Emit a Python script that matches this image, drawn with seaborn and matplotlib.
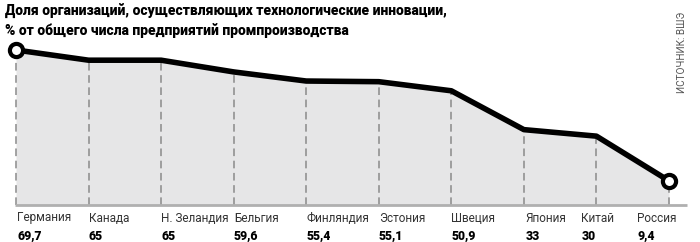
import matplotlib
matplotlib.use("Agg")
import matplotlib.pyplot as plt
import seaborn as sns
import pandas as pd
import numpy as np

countries = ["Германия", "Канада", "Н. Зеландия", "Бельгия", "Финляндия",
             "Эстония", "Швеция", "Япония", "Китай", "Россия"]
values = [69.7, 65, 65, 59.6, 55.4, 55.1, 50.9, 33, 30, 9.4]
value_labels = ["69,7", "65", "65", "59,6", "55,4", "55,1", "50,9", "33", "30", "9,4"]
title_lines = ["Доля организаций, осуществляющих технологические инновации,",
               "% от общего числа предприятий промпроизводства"]
source = "ИСТОЧНИК: ВШЭ"

sns.set_theme(style="white")
plt.rcParams['font.family'] = ['Roboto', 'DejaVu Sans']

df = pd.DataFrame({"x": np.arange(len(countries)), "v": values})

fig = plt.figure(figsize=(7, 2.42), dpi=100)
ax = fig.add_axes([0, 0, 1, 1])
px = (669 - 16) / 9.0
ax.set_xlim(-16 / px, 9 + (700 - 669) / px)
sc = 2.17
ax.set_ylim(69.7 - (242 - 50) / sc, 69.7 + 50 / sc)
base = 69.7 - (205 - 50) / sc

ax.fill_between(df["x"], df["v"], base, color="#e6e6e7", lw=0, zorder=1)
for xi, vi in zip(df["x"], df["v"]):
    ax.plot([xi, xi], [base, vi], color="#8a8a8a", lw=1.1, ls=(0, (5, 3)), zorder=2)
ax.plot([-1 / px, 9 + 18 / px], [base, base], color="#b0b0b0", lw=2, zorder=2,
        solid_capstyle="butt")
sns.lineplot(data=df, x="x", y="v", ax=ax, color="black", lw=4, zorder=3,
             legend=False)
ends = df.iloc[[0, -1]]
ax.scatter(ends["x"], ends["v"], s=90, facecolor="white", edgecolor="black",
           linewidths=3, zorder=4)

# label shifts in pixels for the crowded right end
shift_px = [1, 0, 0, 0, 0, 0, 0, 2, -15, -32]
for xi, name, lab, sh in zip(df["x"], countries, value_labels, shift_px):
    ax.text(xi + sh / px, 69.7 - (218 - 50) / sc, name, ha="left", va="center",
            fontsize=8.5, color="#333333")
    ax.text(xi + sh / px, 69.7 - (236 - 50) / sc, lab, ha="left", va="center",
            fontsize=8.8, color="black", fontweight="heavy")

fig.text(5 / 700, 1 - 11 / 242, title_lines[0], ha="left", va="center",
         fontsize=10, fontweight="heavy", color="black")
fig.text(5 / 700, 1 - 31 / 242, title_lines[1], ha="left", va="center",
         fontsize=10, fontweight="heavy", color="black")
fig.text(682 / 700, 1 - 12 / 242, source, rotation=90, ha="center", va="top",
         fontsize=7.2, color="#555555")

ax.axis("off")
fig.savefig("out.png", dpi=100)
